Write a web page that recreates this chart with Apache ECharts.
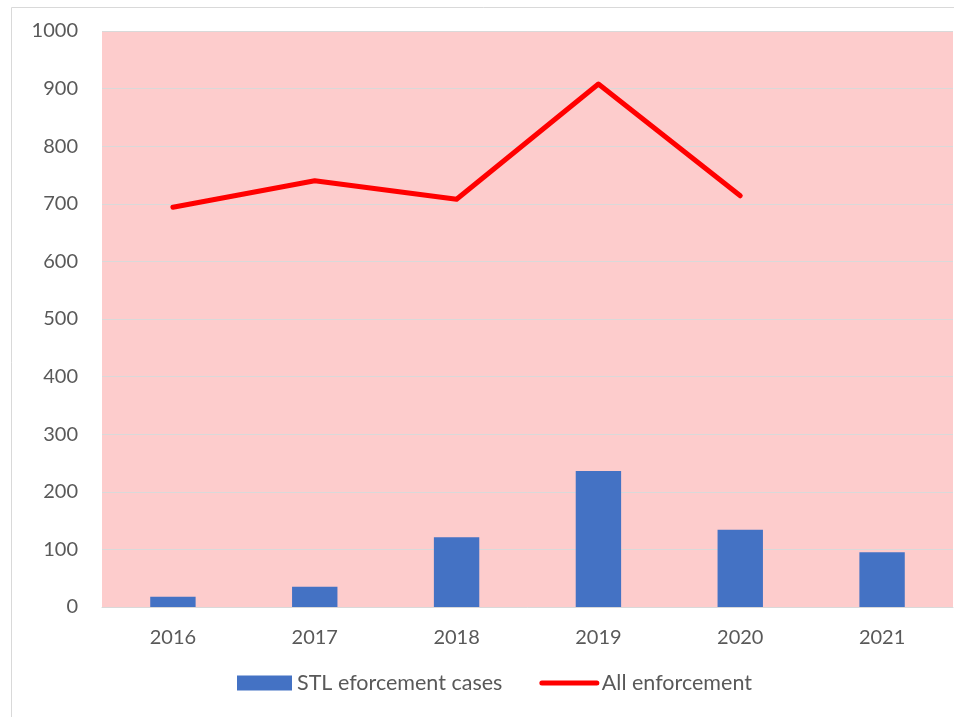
<!DOCTYPE html>
<html>
<head>
<meta charset="utf-8">
<script src="https://cdn.jsdelivr.net/npm/echarts@6/dist/echarts.min.js"></script>
<style>
  html, body { margin: 0; padding: 0; background: #fff; }
  #chart { width: 954px; height: 717px; }
</style>
</head>
<body>
<div id="chart"></div>
<script>
  const years = ['2016', '2017', '2018', '2019', '2020', '2021']
  const stlCases = [18, 35, 121, 236, 134, 95]
  const allEnforcement = [694, 740, 708, 908, 714, null]
  const yTicks = { min: 0, max: 1000, interval: 100 }

  const chart = echarts.init(document.getElementById('chart'))
  const font = 'Lato, "Open Sans", sans-serif'

  chart.setOption({
    animation: false,
    textStyle: { fontFamily: font },
    graphic: [{
      type: 'rect',
      shape: { x: 11.5, y: 7.5, width: 960, height: 720 },
      style: { fill: 'none', stroke: '#d9d9d9', lineWidth: 1 },
      silent: true
    }],
    grid: {
      left: 102,
      right: 1,
      top: 31,
      bottom: 110,
      show: true,
      backgroundColor: '#fdcccc',
      borderWidth: 0
    },
    legend: {
      bottom: 18,
      left: 232,
      itemGap: 37,
      itemWidth: 55,
      itemHeight: 15,
      textStyle: { color: '#595959', fontSize: 21.5, fontFamily: font },
      data: [
        { name: 'STL eforcement cases', icon: 'rect' },
        { name: 'All enforcement', itemStyle: { opacity: 0 }, lineStyle: { width: 5, cap: 'round' } }
      ]
    },
    xAxis: {
      type: 'category',
      data: years,
      axisLine: { show: true, lineStyle: { color: '#d9d9d9', width: 1 } },
      axisTick: { show: false },
      axisLabel: { color: '#595959', fontSize: 20, margin: 21, fontFamily: font }
    },
    yAxis: {
      type: 'value',
      min: yTicks.min,
      max: yTicks.max,
      interval: yTicks.interval,
      axisLine: { show: false },
      axisTick: { show: false },
      axisLabel: {
        color: '#595959', fontSize: 20, margin: 24, fontFamily: font,
        formatter: v => String(v)
      },
      splitLine: { show: true, lineStyle: { color: '#d9d9d9', width: 1 } }
    },
    series: [{
      name: 'STL eforcement cases',
      type: 'bar',
      data: stlCases,
      barWidth: '32%',
      itemStyle: { color: '#4472c4' }
    }, {
      name: 'All enforcement',
      type: 'line',
      data: allEnforcement,
      symbol: 'none',
      connectNulls: false,
      lineStyle: { color: '#ff0000', width: 5, join: 'round', cap: 'round' },
      itemStyle: { color: '#ff0000' }
    }]
  })
</script>
</body>
</html>
